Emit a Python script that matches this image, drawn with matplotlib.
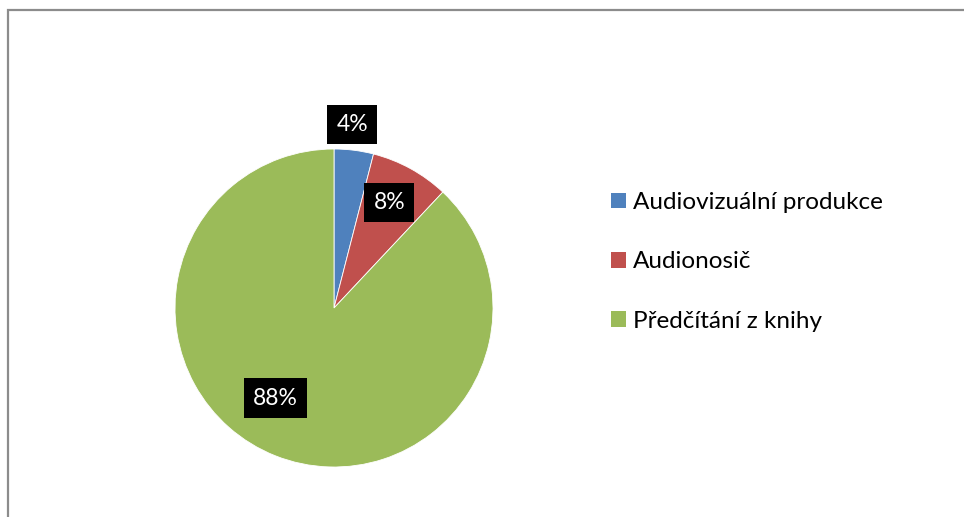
import numpy as np
import matplotlib.pyplot as plt
from matplotlib.patches import Rectangle, Patch

# data
categories = ["Audiovizuální produkce", "Audionosič", "Předčítání z knihy"]
shares = [4, 8, 88]
colors = ["#4F81BD", "#C0504D", "#9BBB59"]
# where the data labels sit (radius, angle shift from wedge middle)
label_radius = [1.16, 0.75, 0.675]
label_shift = [1.5, 1.2, -11.4]

plt.rcParams['font.family'] = ['Lato', 'DejaVu Sans']

W, H = 964, 517
fig = plt.figure(figsize=(W / 100, H / 100), dpi=100)

# chart frame (only top and left edges visible)
fig.add_artist(Rectangle((8 / W, -0.2), 1.2, 1.2 - 10 / H, transform=fig.transFigure,
                         fill=False, edgecolor="#8c8c8c", linewidth=1.6))

cx, cy, r = 334, 308, 159
ax = fig.add_axes([(cx - r) / W, (H - cy - r) / H, 2 * r / W, 2 * r / H])
wedges, _ = ax.pie(shares, colors=colors, startangle=90, counterclock=False,
                   wedgeprops=dict(edgecolor="white", linewidth=0.6))
ax.set_xlim(-1, 1)
ax.set_ylim(-1, 1)

for w, v, rad, sh in zip(wedges, shares, label_radius, label_shift):
    ang = np.deg2rad((w.theta1 + w.theta2) / 2 + sh)
    ax.text(rad * np.cos(ang), rad * np.sin(ang), f"{v}%", ha="center", va="center",
            fontsize=16.5, color="white", clip_on=False,
            bbox=dict(boxstyle="square,pad=0.4", facecolor="black", edgecolor="none"))

handles = [Patch(facecolor=c, edgecolor="none") for c in colors]
fig.legend(handles, categories, loc="center left", bbox_to_anchor=(589 / W, 1 - 262 / H),
           frameon=False, fontsize=17.5, labelspacing=1.58, handlelength=0.62,
           handleheight=0.62, handletextpad=0.29)

fig.savefig("out.png", dpi=100)
